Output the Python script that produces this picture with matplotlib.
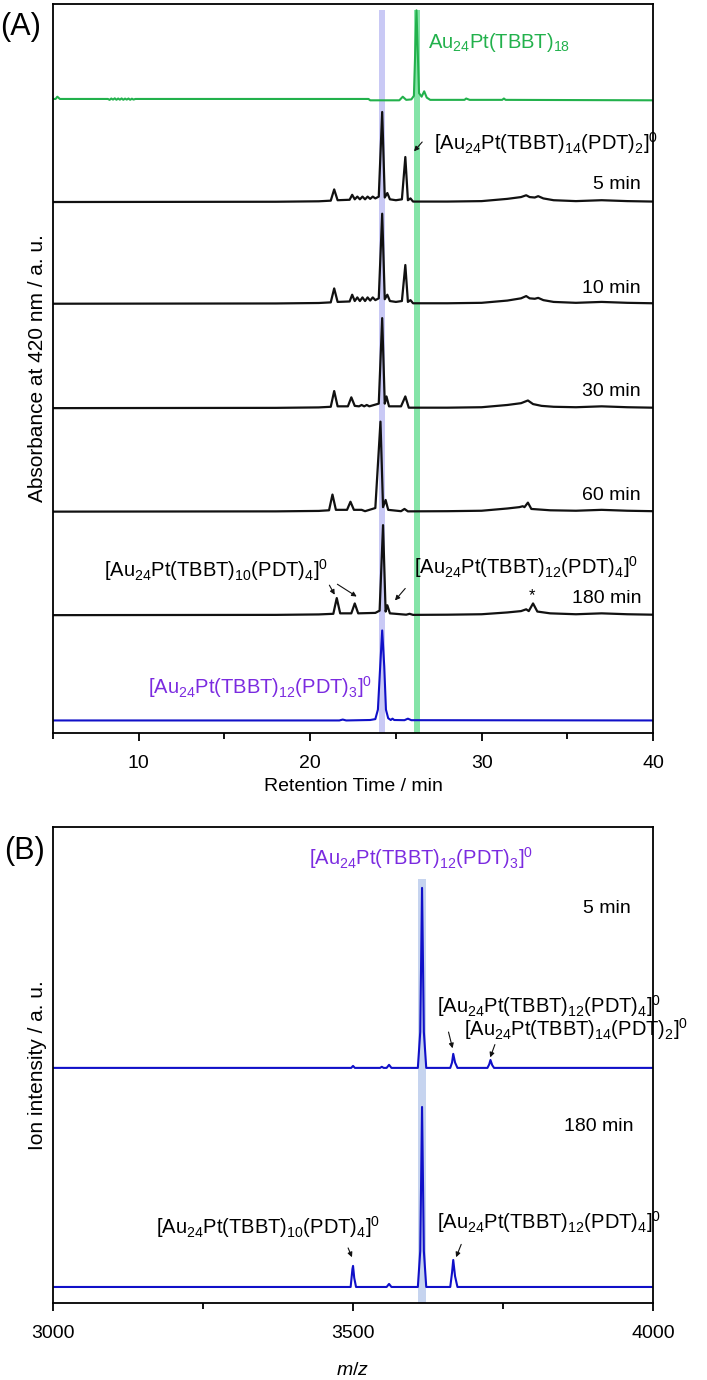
import matplotlib
matplotlib.use("Agg")
import matplotlib.pyplot as plt
from matplotlib.ticker import MultipleLocator

plt.rcParams['font.family'] = ['Liberation Sans', 'DejaVu Sans']
plt.rcParams['mathtext.fontset'] = 'custom'
plt.rcParams['mathtext.rm'] = 'Liberation Sans'
plt.rcParams['mathtext.it'] = 'Liberation Sans:italic'
plt.rcParams['mathtext.default'] = 'regular'

# ---------------- HPLC chromatograms (A) ----------------
green_t = [5.0, 5.15, 5.25, 5.4, 8.2, 8.3, 8.4, 8.5, 8.6, 8.7, 8.8, 8.9, 9.0, 9.1, 9.2, 9.3,
           9.4, 9.5, 9.6, 9.7, 9.8, 23.4, 23.5,
           25.2, 25.4, 25.6, 25.9, 26.05, 26.2, 26.35, 26.5, 26.65, 26.8, 27.0,
           29.0, 29.1, 29.3, 31.2, 31.3, 31.4, 40.0]
green_y = [1.5, 1.5, 4, 1.5, 1.5, 0.5, 2, 0.8, 2.2, 0.6, 2, 0.7, 2.1, 0.6, 1.9, 0.8,
           2, 0.6, 1.8, 0.8, 1.5, 1.5, 0,
           0, 4, 0.5, 1, 5, 100, 8, 4, 10, 3, 0.5,
           0.5, 2, 0.5, 0.5, 2, 0.5, 0]

t5 = [5.0, 18.0, 20.5, 21.2, 21.4, 21.6, 22.3, 22.45, 22.6, 22.75, 22.9, 23.05, 23.2, 23.35,
      23.5, 23.65, 23.8, 24.0, 24.2, 24.35, 24.5, 24.65, 25.0, 25.35, 25.55, 25.7, 25.85, 26.0,
      28.0, 30.0, 31.5, 32.3, 32.6, 32.8, 33.1, 33.3, 33.6, 34.2, 35.5, 37.0, 38.5, 40.0]
y5 = [0, 0.3, 0.8, 1.5, 14, 2, 2.5, 8, 3, 6, 3, 6, 3, 6,
      3.5, 6, 4, 6, 100, 5, 10, 3, 2, 3, 50, 2, 4, 0.5,
      0.5, 1, 3.5, 5.5, 7.5, 5.5, 5, 6.5, 4, 2, 1, 2, 1, 0.5]

t10 = t5
y10 = [0, 0.3, 0.8, 1.5, 17, 2, 2.5, 10, 3, 7, 3, 7, 3, 7,
       3.5, 7, 4, 6, 100, 5, 10, 3, 2, 3, 43, 2, 4, 0.5,
       0.5, 1, 3.5, 6, 8.5, 6, 5.5, 6.5, 4, 2, 1, 2, 1, 0.5]

t30 = [5.0, 18.0, 20.5, 21.2, 21.4, 21.6, 22.2, 22.4, 22.6, 22.85, 23.0, 23.15, 23.3, 23.45,
       24.0, 24.2, 24.35, 24.45, 24.6, 25.3, 25.55, 25.75, 28.0, 30.0, 31.5, 32.3, 32.7,
       33.0, 33.5, 34.2, 35.5, 37.0, 38.5, 40.0]
y30 = [0, 0.3, 0.8, 1.5, 19, 2, 2, 12, 2.5, 2, 3.5, 2, 3.5, 2,
       5, 100, 5, 13, 2, 2, 13, 0.5, 0.5, 1, 3.5, 5.5, 8.5,
       4.5, 2.5, 1.5, 1, 2, 1, 0.5]

t60 = [5.0, 18.0, 20.5, 21.1, 21.3, 21.5, 22.15, 22.35, 22.55, 23.0, 23.2, 23.8, 24.1, 24.25,
       24.4, 24.55, 25.3, 25.5, 25.7, 28.0, 30.0, 31.5, 32.2, 32.4, 32.5, 32.7, 32.9, 34.0,
       35.5, 37.0, 38.5, 40.0]
y60 = [0, 0.3, 0.8, 1.5, 19, 2, 2, 11, 2, 2, 0.5, 4, 100, 5,
       13, 2, 0.5, 3, 0.3, 0.5, 1, 3.5, 5, 6, 5, 10, 3, 1.5,
       1, 2, 1, 0.5]

t180 = [5.0, 18.0, 20.5, 21.35, 21.55, 21.75, 22.4, 22.6, 22.8, 23.8, 24.05, 24.25, 24.4,
        24.5, 24.65, 25.6, 25.8, 26.0, 28.0, 30.0, 31.5, 32.3, 32.6, 32.75, 33.0, 33.25,
        34.0, 35.5, 37.0, 38.5, 40.0]
y180 = [0, 0.3, 0.8, 1.5, 19, 2, 2, 13, 2, 2.5, 5, 100, 4,
        11, 2, 0.5, 1.5, 0.3, 0.5, 1, 3, 4.5, 6.5, 4.5, 13, 4,
        2, 1, 2, 1, 0.5]

blue_t = [5.0, 21.7, 21.9, 22.1, 23.5, 23.8, 23.95, 24.07, 24.2, 24.32, 24.42, 24.55, 24.7, 24.8,
          24.9, 25.5, 25.7, 25.9, 40.0]
blue_y = [0, 0, 1, 0, 0.5, 1.5, 12, 55, 100, 60, 12, 2.5, 0.5, 2,
          0.5, 0.3, 2, 0.3, 0]

hplc_offsets = [703, 590, 477, 361, 246, 131, 14]
hplc_times = ['5 min', '10 min', '30 min', '60 min', '180 min']
hplc_label_y = [609, 494, 379, 264, 150]

# ---------------- Mass spectra (B) ----------------
ms5_mz = [3000, 3497, 3500, 3503, 3545, 3548, 3551, 3556, 3560, 3564, 3608, 3612, 3615,
          3618, 3622, 3662, 3665, 3667, 3670, 3674, 3724, 3727, 3729, 3732, 3735, 4000]
ms5_y = [0, 0, 1.1, 0, 0, 0.6, 0, 0, 1.7, 0, 0, 20, 100,
         20, 0, 0, 3, 7.8, 3, 0, 0, 2, 4.4, 1.5, 0, 0]

ms180_mz = [3000, 3496, 3499, 3500, 3502, 3505, 3556, 3560, 3564, 3608, 3612, 3615, 3618,
            3622, 3662, 3665, 3667, 3670, 3674, 4000]
ms180_y = [0, 0, 10, 11.7, 5, 0, 0, 1.7, 0, 0, 20, 100, 20,
           0, 0, 8, 15, 6, 0, 0]

ms_offsets = [130.6, 8.9]

label_10_4 = r'[Au$_{24}$Pt(TBBT)$_{10}$(PDT)$_{4}$]$^{0}$'
label_12_4 = r'[Au$_{24}$Pt(TBBT)$_{12}$(PDT)$_{4}$]$^{0}$'
label_14_2 = r'[Au$_{24}$Pt(TBBT)$_{14}$(PDT)$_{2}$]$^{0}$'
label_12_3 = r'[Au$_{24}$Pt(TBBT)$_{12}$(PDT)$_{3}$]$^{0}$'
label_18 = r'Au$_{24}$Pt(TBBT)$_{18}$'

fs = 14
fs_chem = 14.5
black = '#111111'
green = '#22b14c'
blue = '#1010c8'
purple = '#7b2be0'
arrow = dict(arrowstyle='-|>', color=black, lw=0.8, mutation_scale=7)

fig = plt.figure(figsize=(7.07, 13.8), dpi=100)
ax1 = fig.add_axes([0.075, 0.4688, 0.8487, 0.5283])
ax2 = fig.add_axes([0.075, 0.0558, 0.8487, 0.3449])

# ---- panel A ----
ax1.axvspan(24.03, 24.35, ymin=0, ymax=0.992, color='#c9c9f5', lw=0, zorder=0)
ax1.axvspan(26.05, 26.38, ymin=0, ymax=0.992, color='#84e4a8', lw=0, zorder=0)

ax1.plot(green_t, [v + hplc_offsets[0] for v in green_y], color=green, lw=1.5)
traces = [(t5, y5), (t10, y10), (t30, y30), (t60, y60), (t180, y180)]
for i, (tt, yy) in enumerate(traces):
    ax1.plot(tt, [v + hplc_offsets[i + 1] for v in yy], color=black, lw=1.6)
    ax1.text(39.3, hplc_label_y[i], hplc_times[i], fontsize=fs, ha='right', va='center')
ax1.plot(blue_t, [v + hplc_offsets[6] for v in blue_y], color=blue, lw=1.5)

ax1.text(26.88, 767, label_18, color=green, fontsize=fs_chem, ha='left', va='center')
ax1.text(27.2, 655, label_14_2, fontsize=fs_chem, ha='left', va='center')
ax1.annotate('', xy=(25.95, 644), xytext=(26.64, 659), arrowprops=arrow)
ax1.text(8.0, 181, label_10_4, fontsize=fs_chem, ha='left', va='center')
ax1.annotate('', xy=(21.51, 151), xytext=(21.04, 167), arrowprops=arrow)
ax1.annotate('', xy=(22.85, 150), xytext=(21.45, 167), arrowprops=arrow)
ax1.text(26.05, 184, label_12_4, fontsize=fs_chem, ha='left', va='center')
ax1.annotate('', xy=(24.84, 145), xytext=(25.65, 163), arrowprops=arrow)
ax1.text(32.95, 153, '*', fontsize=12, ha='center', va='center')
ax1.text(17.08, 51, label_12_3, color=purple, fontsize=fs_chem, ha='center', va='center')

ax1.set_xlim(5, 40)
ax1.set_ylim(0, 810)
ax1.set_yticks([])
ax1.xaxis.set_major_locator(MultipleLocator(10))
ax1.xaxis.set_minor_locator(MultipleLocator(5))
ax1.set_xlabel('Retention Time / min', fontsize=fs, labelpad=4)
ax1.set_ylabel('Absorbance at 420 nm / a. u.', fontsize=15, labelpad=4)

# ---- panel B ----
ax2.axvspan(3608, 3622, ymin=0, ymax=0.89, color='#c6d4ef', lw=0, zorder=0)
ax2.plot(ms5_mz, [v + ms_offsets[0] for v in ms5_y], color=blue, lw=1.5)
ax2.plot(ms180_mz, [v + ms_offsets[1] for v in ms180_y], color=blue, lw=1.5)

ax2.text(3613, 247, label_12_3, color=purple, fontsize=fs_chem, ha='center', va='center')
ax2.text(3962, 219, '5 min', fontsize=fs, ha='right', va='center')
ax2.text(3968, 98, '180 min', fontsize=fs, ha='right', va='center')
ax2.text(3640, 165, label_12_4, fontsize=fs_chem, ha='left', va='center')
ax2.annotate('', xy=(3667, 140), xytext=(3658, 152), arrowprops=arrow)
ax2.text(3685, 152, label_14_2, fontsize=fs_chem, ha='left', va='center')
ax2.annotate('', xy=(3727, 135), xytext=(3738, 145), arrowprops=arrow)
ax2.text(3358, 42, label_10_4, fontsize=fs_chem, ha='center', va='center')
ax2.annotate('', xy=(3500, 24), xytext=(3490, 32), arrowprops=arrow)
ax2.text(3640, 45, label_12_4, fontsize=fs_chem, ha='left', va='center')
ax2.annotate('', xy=(3670, 24), xytext=(3682, 34), arrowprops=arrow)

ax2.set_xlim(3000, 4000)
ax2.set_ylim(0, 264.4)
ax2.set_yticks([])
ax2.set_xticks([3000, 3500, 4000])
ax2.xaxis.set_minor_locator(MultipleLocator(250))
ax2.set_xlabel(r'$\it{m/z}$', fontsize=fs, labelpad=14)
ax2.set_ylabel('Ion intensity / a. u.', fontsize=15, labelpad=4)

for ax in (ax1, ax2):
    for sp in ax.spines.values():
        sp.set_linewidth(1.3)
    ax.tick_params(axis='x', which='major', direction='out', length=6, width=1.3,
                   labelsize=fs, pad=10)
    ax.tick_params(axis='x', which='minor', direction='out', length=4, width=1.3)

fig.text(21 / 707, 1 - 27 / 1380, '(A)', fontsize=22, ha='center', va='center')
fig.text(24 / 707, 1 - 851 / 1380, '(B)', fontsize=22, ha='center', va='center')

fig.savefig('out.png', dpi=100)
